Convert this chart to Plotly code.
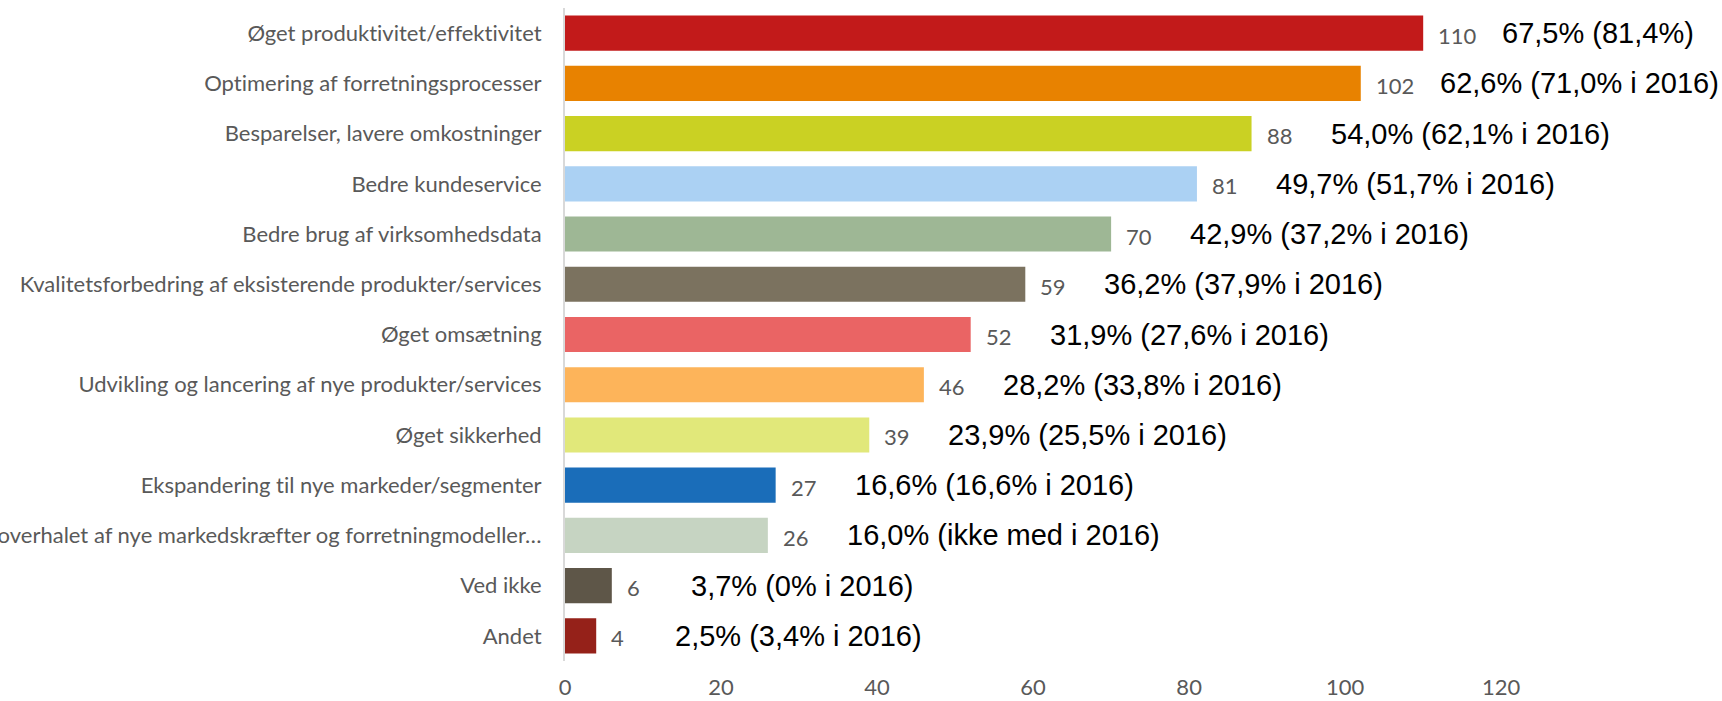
"""Horizontal bar chart: expected benefits, counts and shares vs 2016."""

import plotly.graph_objects as go

categories = [
    "Øget produktivitet/effektivitet",
    "Optimering af forretningsprocesser",
    "Besparelser, lavere omkostninger",
    "Bedre kundeservice",
    "Bedre brug af virksomhedsdata",
    "Kvalitetsforbedring af eksisterende produkter/services",
    "Øget omsætning",
    "Udvikling og lancering af nye produkter/services",
    "Øget sikkerhed",
    "Ekspandering til nye markeder/segmenter",
    "overhalet af nye markedskræfter og forretningmodeller…",
    "Ved ikke",
    "Andet",
]
counts = [110, 102, 88, 81, 70, 59, 52, 46, 39, 27, 26, 6, 4]
share_labels = [
    "67,5% (81,4%)",
    "62,6% (71,0% i 2016)",
    "54,0% (62,1% i 2016)",
    "49,7% (51,7% i 2016)",
    "42,9% (37,2% i 2016)",
    "36,2% (37,9% i 2016)",
    "31,9% (27,6% i 2016)",
    "28,2% (33,8% i 2016)",
    "23,9% (25,5% i 2016)",
    "16,6% (16,6% i 2016)",
    "16,0% (ikke med i 2016)",
    "3,7% (0% i 2016)",
    "2,5% (3,4% i 2016)",
]
bar_colors = [
    "#C21A1A", "#E88200", "#CAD123", "#ABD1F3", "#9EB795", "#7B725F", "#EA6464",
    "#FDB45A", "#E1E87A", "#1A6DB9", "#C6D4C2", "#5E5648", "#952119",
]
x_ticks = [0, 20, 40, 60, 80, 100, 120]

LABEL_GRAY = "#595959"
LABEL_FONT = "Lato, Calibri, sans-serif"

fig = go.Figure(
    go.Bar(
        x=counts,
        y=categories,
        orientation="h",
        marker=dict(color=bar_colors, line=dict(width=0)),
        hoverinfo="x+y",
    )
)

for cat, n, share in zip(categories, counts, share_labels):
    fig.add_annotation(
        x=n, y=cat, text=str(n), showarrow=False, xanchor="left", xshift=13, yshift=-2,
        font=dict(family=LABEL_FONT, size=22, color=LABEL_GRAY),
    )
    fig.add_annotation(
        x=n, y=cat, text=share, showarrow=False, xanchor="left", xshift=77,
        font=dict(family="Liberation Sans, Arial, sans-serif", size=29, color="#000000"),
    )

fig.update_layout(
    width=1722,
    height=701,
    paper_bgcolor="white",
    plot_bgcolor="white",
    margin=dict(l=565, r=0, t=8, b=40),
    bargap=0.3,
    showlegend=False,
)
fig.update_xaxes(
    range=[0, 148.3],
    tickvals=x_ticks,
    showgrid=False,
    zeroline=False,
    showline=False,
    ticks="",
    ticklabelstandoff=11,
    automargin=False,
    tickfont=dict(family=LABEL_FONT, size=22, color=LABEL_GRAY),
)
fig.update_yaxes(
    autorange="reversed",
    showgrid=False,
    zeroline=False,
    showline=True,
    linecolor="#D9D9D9",
    linewidth=2,
    ticks="",
    ticklabelstandoff=17,
    automargin=False,
    tickfont=dict(family=LABEL_FONT, size=22, color=LABEL_GRAY),
)

# drop the page margin so the figure sits at the window's corner, and keep
# Calibri-like labels free of "ti"/"ff" ligatures
page_fix = (
    "document.body.style.margin='0';"
    "var s=document.createElement('style');"
    "s.innerHTML='text{font-variant-ligatures:none !important}';"
    "document.head.appendChild(s);"
)
fig.write_html("out.html", post_script=page_fix, config={"displayModeBar": False})
